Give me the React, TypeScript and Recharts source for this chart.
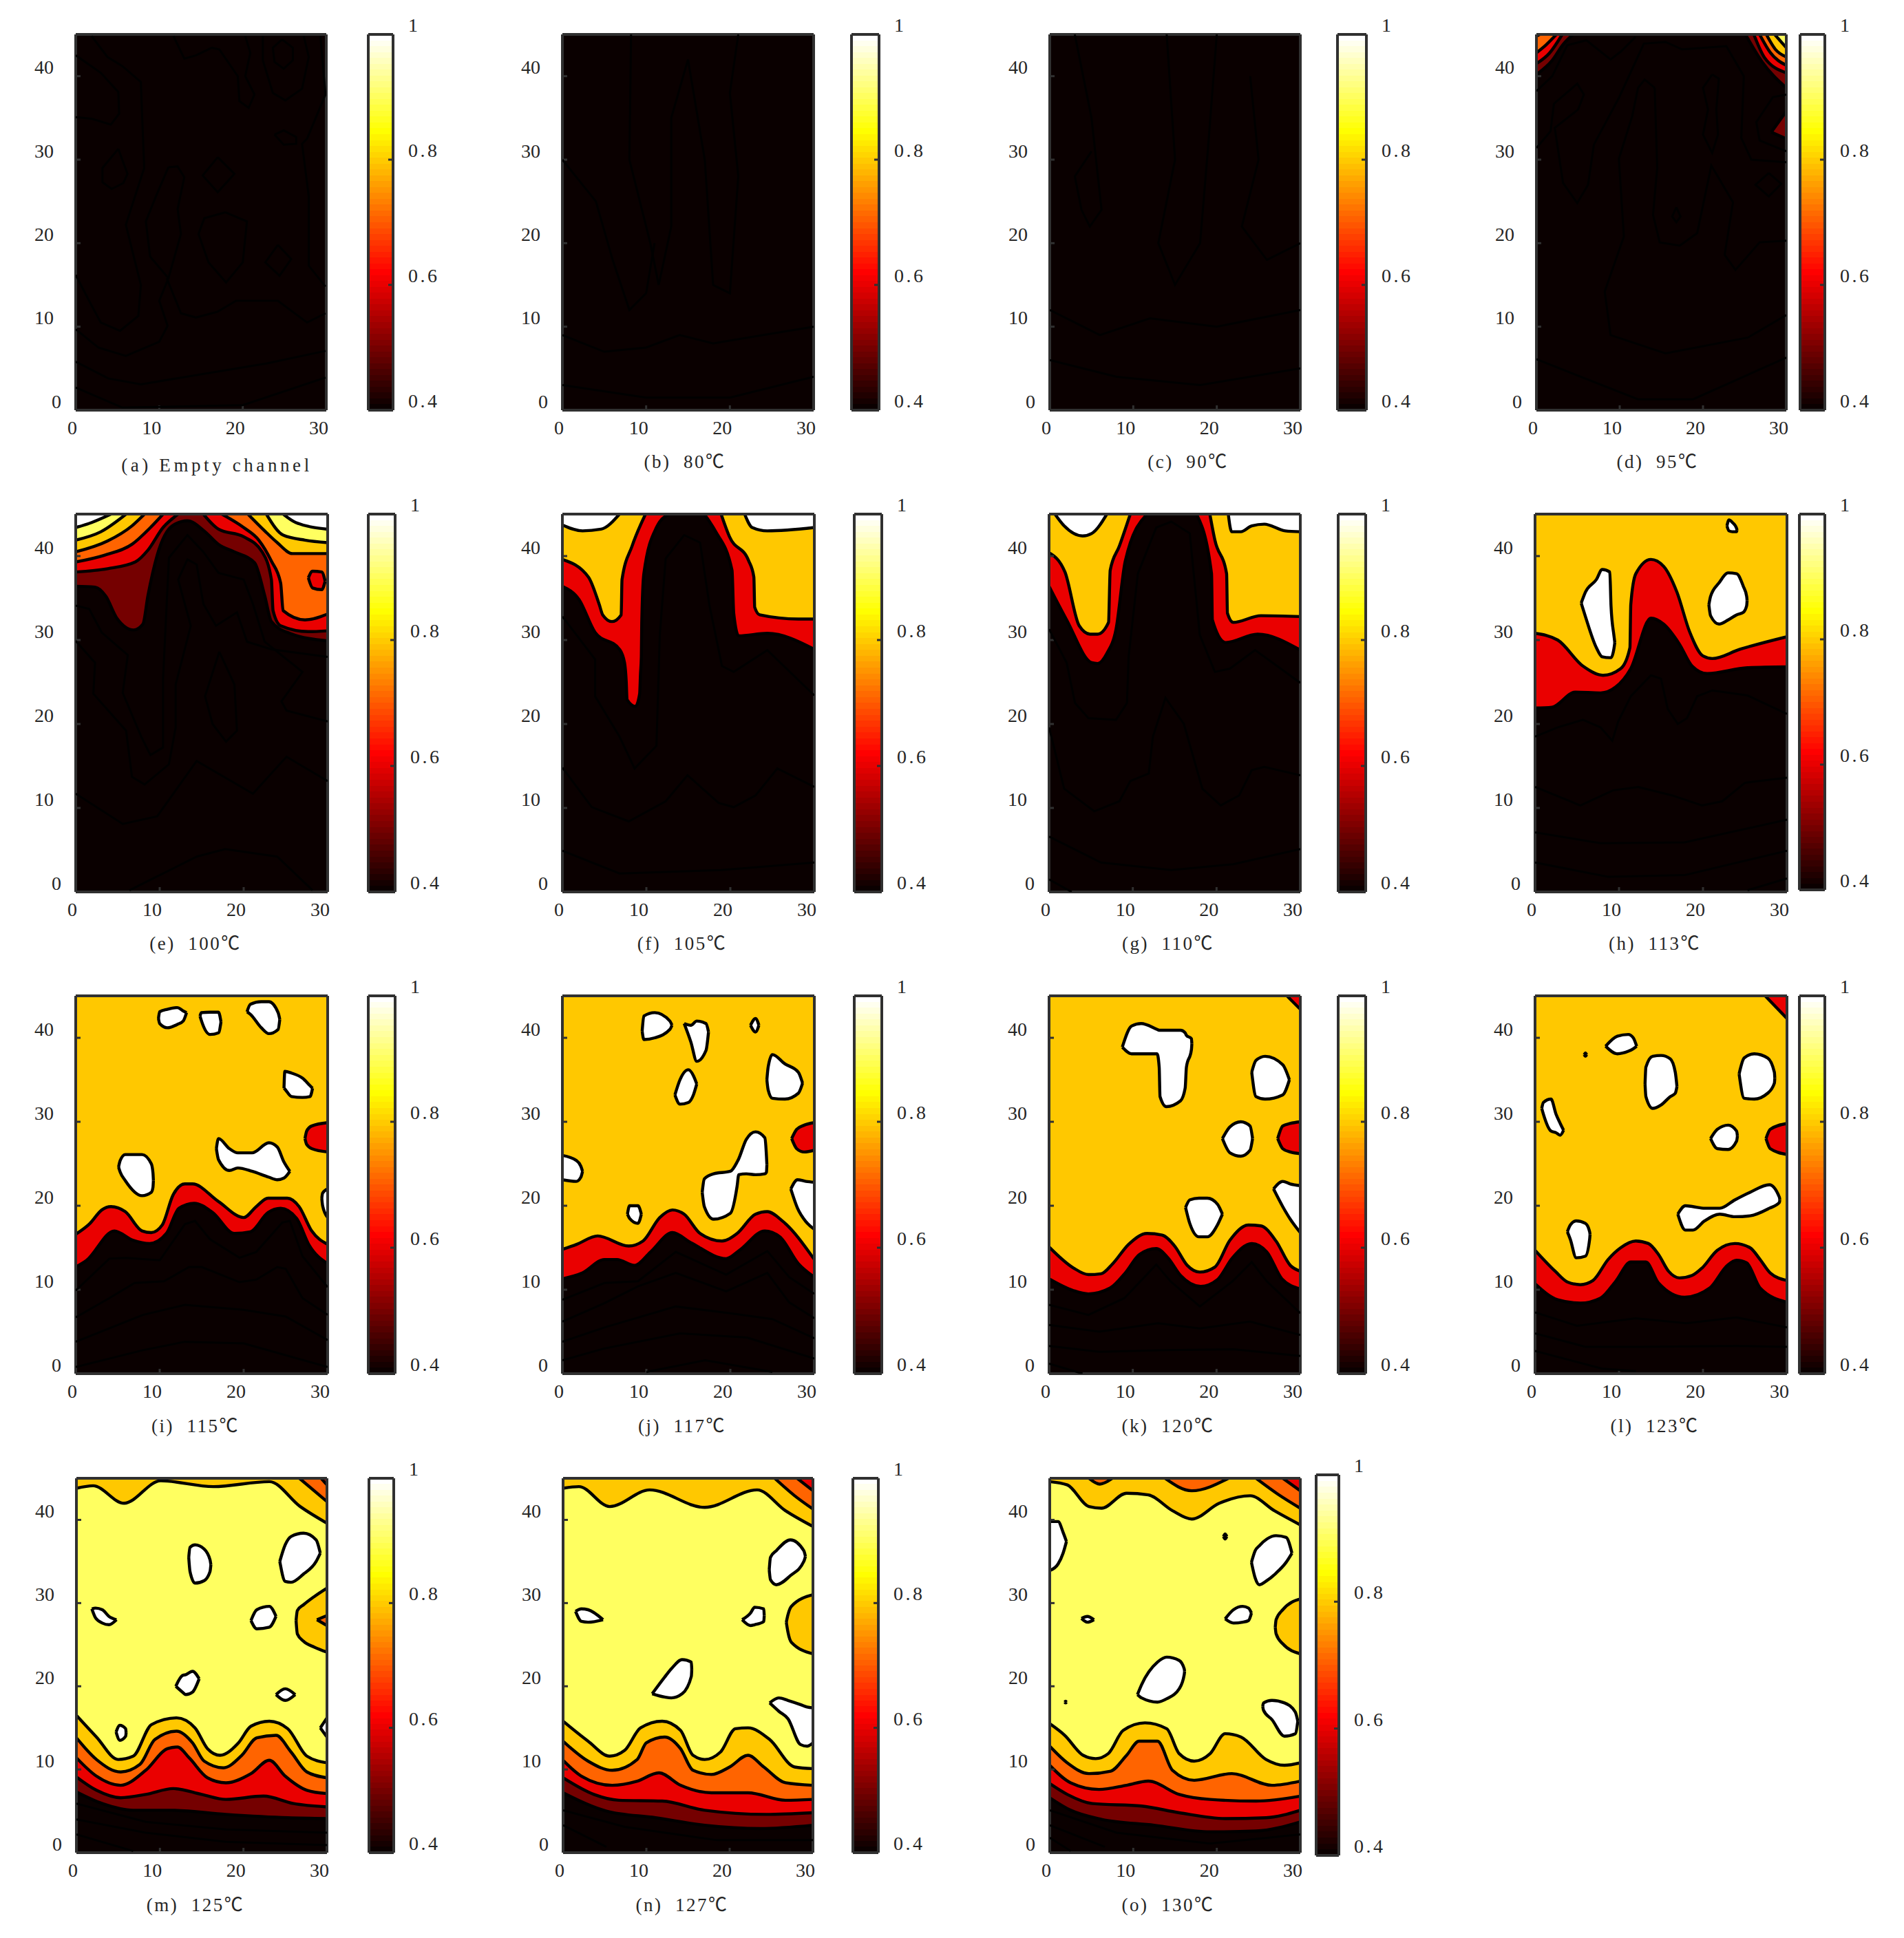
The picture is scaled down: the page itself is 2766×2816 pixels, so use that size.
import { Area, ComposedChart, Scatter, XAxis, YAxis } from "recharts";

type XY = [number, number];
type Rng = [number, number, number];

const BLACK = "#0a0000";
const DARK = "#750000";
const RED = "#ea0000";
const ORANGE = "#ff6400";
const AMBER = "#ffc800";
const YELLOW = "#ffff60";
const WHITE = "#ffffff";
const FRAME = "#303030";
const TEXT = "#262626";
const FONT = '"Liberation Serif", "Noto Sans CJK SC", serif';

const xTicks = [0, 10, 20, 30];
const yTicks = [0, 10, 20, 30, 40];
const barTicks = [0.4, 0.6, 0.8, 1];
const floorCurve: XY[] = [[0, 0], [30, 0]];

// (a) empty channel: only faint lines
const aLines: XY[][] = [
  [[1.9, 44.8], [3.8, 42.3], [5.6, 41.2], [7.8, 39.3], [8, 34], [8.2, 29], [6, 22.2], [7.8, 15], [7.5, 11.3], [5.3, 9.5], [3, 10.5], [1.6, 13.1], [0, 16.2]],
  [[0, 42.5], [3, 40.4], [5.1, 38.1], [5.2, 35.5], [4.2, 34.2], [1.9, 34.9], [0, 35.1]],
  [[5.1, 31.3], [6.2, 28.3], [5.7, 27.2], [4.3, 26.5], [3.2, 27.3], [3.2, 29], [5.1, 31.3]],
  [[11.7, 44.8], [13, 42.1], [14.4, 42.5], [16.3, 43.4], [17.2, 43.2], [19.4, 40], [19.6, 37], [20.7, 36.2], [21.4, 37.8], [20.3, 40], [20.9, 42.8], [20.3, 44.8]],
  [[24.7, 44.4], [26, 43.4], [26, 41.9], [24.9, 40.9], [23.8, 41.7], [23.6, 43.4], [24.7, 44.4]],
  [[22.4, 44.8], [22.4, 41.9], [23.6, 38], [25.1, 37.1], [27.1, 38.5], [27.9, 42.3], [27.3, 44.8]],
  [[29.3, 44.8], [29.9, 37.8], [27.7, 32.5], [27.1, 31.9], [27.9, 25.6], [27.9, 17.3], [29.9, 14.8]],
  [[23.8, 33], [24.9, 33.5], [26.4, 32.7], [26.4, 31.9], [24.9, 31.8], [23.8, 33]],
  [[11.1, 29.1], [12.2, 29.2], [13, 27.9], [12.2, 24.1], [12.6, 21.1], [11.1, 15.8], [10, 13.1], [11, 10.1], [10, 8.2], [6, 6.5], [2.7, 7.5], [0, 9.7]],
  [[11.1, 29.1], [9.6, 25.6], [8.4, 22.6], [8.9, 18.4], [11.1, 15.8]],
  [[17, 30.3], [19, 28.3], [17, 26.1], [15.2, 28.1], [17, 30.3]],
  [[17.9, 23.7], [20.5, 22.6], [20, 17.7], [18, 15.3], [15.9, 17.7], [14.7, 21.1], [15.4, 23], [17.9, 23.7]],
  [[24.2, 19.8], [25.8, 18.1], [24.4, 16.1], [22.7, 17.7], [24.2, 19.8]],
  [[10.9, 15.8], [12.6, 11.6], [14.4, 11.1], [17, 11.8], [19.2, 13.1], [24.2, 13.1], [27.7, 10.5], [29.9, 11.6]],
  [[0, 5.8], [3.9, 3.8], [7.8, 3.1], [22.9, 5.6], [29.9, 7.1]],
  [[0, 2.7], [5.6, 0.3], [20, 0.6], [29.9, 3.9]],
];

// (b), (c): faint lines, rough readings
const bLines: XY[][] = [
  [[0, 9], [5, 7], [10, 7.5], [14, 9], [18, 8], [24, 9], [30, 10]],
  [[8.2, 45], [8, 30], [10.5, 20], [11.5, 15], [13, 22], [13, 35], [15, 42], [17, 30], [18, 15], [20, 14], [21, 28], [20, 38], [21, 45]],
  [[0, 3], [10, 1.5], [20, 1.5], [30, 4]],
  [[0, 30], [4, 25], [6, 18], [8, 12], [10, 14], [11, 20]],
];
const cLines: XY[][] = [
  [[0, 6], [8, 4], [18, 3], [30, 5]],
  [[3, 45], [5, 35], [6.2, 24], [4.8, 22], [3.8, 24], [3, 28], [5, 31]],
  [[0, 12], [6, 9], [12, 11], [20, 10], [30, 12]],
  [[14, 45], [15, 30], [13, 20], [15, 15], [18, 20], [19, 32], [20, 45]],
  [[24, 40], [25, 30], [23, 22], [26, 18], [30, 20]],
];

// (d) 95C
const dTlDark: XY[] = [[0, 40.2], [1.9, 41.9], [3.2, 43.8], [4.4, 45]];
const dTlRed: XY[] = [[0, 41.5], [1.6, 42.8], [3.1, 45]];
const dTlOrange: XY[] = [[0, 42.8], [1.1, 43.7], [2.4, 45]];
const dTlAmber: XY[] = [[0, 44.8], [0.4, 45]];
const dTrDark: XY[] = [[25.1, 45], [27.1, 41.7], [30, 38.6]];
const dTrRed: XY[] = [[26.1, 45], [27.4, 42.2], [30, 40.4]];
const dTrOrange: XY[] = [[26.8, 45], [28.1, 42.8], [30, 41.3]];
const dTrAmber: XY[] = [[27.6, 45], [28.7, 43.2], [30, 42.3]];
const dTrYellow: XY[] = [[28.6, 45], [30, 43.4]];
const dWedge: Rng[] = [[28.2, 33.3, 33.3], [30, 32.5, 35.8]];
const dLines: XY[][] = [
  [[0, 38.2], [1.9, 40], [3.7, 43.7], [6, 44.3], [8.9, 42], [10.2, 43], [11.9, 44.7]],
  [[0, 31.4], [1.7, 33.4], [2.1, 36.7], [4.9, 39.1], [5.7, 37.8], [5, 36], [2.2, 33.8], [3.2, 27.2], [4.9, 24.8], [6.2, 27], [6.9, 31.8], [9.9, 37.4], [12.9, 43.9], [15.5, 44.1], [17.5, 43.2], [22.8, 43.6], [24.9, 40], [24.6, 32.6], [25.8, 30], [30, 29.7]],
  [[14.2, 38.6], [13, 39.6], [12.2, 38.6], [11.5, 35.2], [9.9, 30.1], [10.5, 20.8], [8.2, 14.2], [8.9, 9], [15.5, 6.8], [25.4, 8.7], [30, 11.4]],
  [[14.2, 38.6], [14.5, 29], [14, 23.4], [14.8, 20.1], [17.2, 19.7], [19.3, 21.2], [21, 29.3], [23.6, 24.9], [22.6, 18.6], [23.9, 16.8], [26.8, 20.1], [30, 20.3]],
  [[21.1, 40.2], [21.9, 39.7], [21.6, 36], [21.8, 33], [21.1, 30.8], [20, 33], [20.6, 36], [20, 38.6], [21.1, 40.2]],
  [[30, 37.8], [28.4, 37.5], [26.4, 34.5], [26.8, 32.3], [30, 31]],
  [[27.9, 28.4], [29.4, 27.1], [27.9, 25.6], [26.3, 27], [27.9, 28.4]],
  [[16.8, 24.3], [17.3, 23.2], [16.8, 22.5], [16.3, 23.2], [16.8, 24.3]],
  [[0, 6.1], [12.2, 1.3], [18.8, 1.3], [30, 6.3]],
];

// (e) 100C
const eDark: XY[] = [[0, 36.4], [2.3, 36.3], [3.6, 35.2], [4.9, 32.6], [6.9, 31.2], [8, 31.9], [8.6, 35.3], [9.7, 40.1], [11.5, 43.6], [13.3, 44.2], [15.4, 42.9], [17, 41.4], [18.9, 40.5], [21.3, 39.2], [22.5, 35.3], [23.3, 32.2], [25.5, 30.8], [30, 29.9]];
const eRedL: XY[] = [[0, 38.1], [3.8, 38.5], [7.1, 39.3], [8.6, 40.7], [10.4, 43.4], [12.2, 45]];
const eRedR: XY[] = [[15.2, 45], [17, 43.2], [20, 42.3], [22.2, 40.5], [23.3, 37.2], [23.5, 33.5], [24.4, 31.7], [27.7, 31], [30, 31.1]];
const eOrangeL: XY[] = [[0, 39.3], [3.4, 40.1], [6.7, 41.4], [8.9, 43.4], [10.4, 45]];
const eOrangeR: XY[] = [[17.4, 45], [20, 43.4], [21.8, 41.9], [23.3, 39.4], [24.4, 36.8], [24.7, 33.5], [27.3, 32.4], [30, 33.1]];
const eAmberL: XY[] = [[0, 40.5], [3.8, 41.8], [6.7, 43.6], [8.2, 45]];
const eAmberR: XY[] = [[20.5, 45], [22.5, 43], [24, 41.6], [25.8, 40.3], [30, 40.3]];
const eYellowL: XY[] = [[0, 41.9], [3, 42.9], [6, 45]];
const eYellowR: XY[] = [[22.7, 45], [24.7, 42.5], [27.3, 41.9], [30, 41.6]];
const eWhiteL: XY[] = [[0, 43.4], [1.9, 44], [4.2, 45]];
const eWhiteR: XY[] = [[24.7, 45], [26.2, 44], [30, 43.2]];
const eSpot: Rng[] = [[27.7, 37.4, 37.4], [28.2, 36.2, 38.2], [29.3, 36, 38.1], [29.7, 37, 37]];
const eLines: XY[][] = [
  [[0, 34.1], [1.6, 33.7], [3.1, 30.9], [6.2, 28.2], [5.6, 23.7], [7.8, 18.5], [8.9, 16.3], [10.4, 17.2], [10.4, 25.4], [11.1, 39.8], [13.3, 42.5], [15.2, 40.5], [17, 38], [20, 37.2], [21.1, 34.3], [22.5, 29.8], [27, 26.2], [24.5, 22.7], [25.1, 21.6], [30, 20.3]],
  [[0, 29.9], [2.3, 27.3], [2.1, 23.6], [6, 19.2], [6.7, 13.7], [8.2, 12.8], [11.1, 15.2], [11.9, 19.6], [11.9, 24.7], [13.7, 31.7], [12.2, 37.2], [13.3, 39.6], [14.4, 39], [15.2, 34.3], [16.7, 31.7], [19.2, 33.3], [20.4, 29.8], [23.3, 28.9], [30, 28]],
  [[17.1, 28.6], [18.9, 24.7], [19.2, 19.2], [17.9, 17.9], [16.3, 20], [15.4, 23.3], [17.1, 28.6]],
  [[0, 11.7], [5.6, 8.1], [9.7, 9], [14.4, 15.6], [21.1, 11.7], [25.1, 16.1], [30, 13.2]],
  [[6.4, 0.2], [14.4, 4.2], [17.8, 5.1], [24, 4.2], [28.2, 0.2]],
];

// (f) 105C
const fRedL: XY[] = [[0, 36.4], [2, 34.8], [3.9, 30.9], [6.8, 28.9], [7.4, 27.3], [7.6, 25.1], [7.7, 22.9], [8.7, 22.1], [9.2, 23.6], [9.3, 26], [9.4, 28], [9.45, 32], [9.7, 37.9], [11.2, 43.4], [12.7, 45]];
const fRedR: XY[] = [[16.9, 45], [18.2, 43], [20.2, 38.3], [20.4, 33.2], [21, 30.5], [24.4, 30.8], [30, 28.9]];
const fAmberL: XY[] = [[0, 39.6], [3.1, 37.5], [4.4, 34.2], [4.8, 33], [5.9, 32.2], [7, 33], [7.1, 37.2], [8.3, 41.2], [9.9, 45]];
const fAmberR: XY[] = [[18.9, 45], [19.9, 42.3], [22.2, 39.4], [22.8, 37.5], [22.9, 33.9], [23.5, 33], [28.1, 32.5], [30, 32.5]];
const fWhiteL: XY[] = [[0, 43.7], [2.4, 43], [4.6, 43.2], [6.8, 45]];
const fWhiteR: XY[] = [[21.7, 45], [22.6, 43.4], [24.4, 43], [30, 43.4]];
const fLines: XY[][] = [
  [[0, 32.8], [3.9, 27.7], [3.9, 23.3], [6.8, 18.5], [8.6, 14.7], [11.2, 17.4], [11.6, 30.6], [12.3, 39.7], [14.5, 42.5], [16.4, 41.6], [17.5, 34.2], [19, 26.9], [20.4, 26.2], [24.4, 28.8], [30, 23.4]],
  [[0, 14.8], [3.5, 10.1], [7.9, 8.4], [12.3, 10.8], [14.9, 13.9], [18.6, 10.6], [20.4, 10.1], [23, 11.5], [25.6, 14.7], [30, 12.5]],
  [[0, 4.9], [6.8, 2.2], [18.9, 2.6], [30, 3.5]],
];

// (g) 110C
const gRedL: XY[] = [[0, 36.4], [2.1, 32.4], [5.1, 27.3], [5.8, 27.2], [6.9, 28.4], [8, 31.3], [9.1, 39.4], [11.7, 45]];
const gRedR: XY[] = [[17.6, 45], [19.4, 37.9], [19.5, 32.4], [21.1, 29.7], [24.9, 30.7], [30, 28.8]];
const gAmberL: XY[] = [[0, 40.4], [1.9, 38.1], [3.6, 31.7], [4.9, 30.7], [5.8, 30.7], [7.1, 32.1], [7.3, 38.3], [8.4, 41.2], [9.7, 45]];
const gAmberR: XY[] = [[19.2, 45], [19.8, 41.9], [21.2, 37.9], [21.3, 33.2], [22, 32.1], [25.3, 32.9], [30, 32.8]];
const gWhiteL: XY[] = [[0.7, 45], [1.8, 43.6], [4, 42.4], [5.1, 42.7], [6.9, 45]];
const gWhiteR: XY[] = [[21.4, 45], [21.8, 42.9], [22.9, 42.9], [24.2, 43.6], [25.7, 43.8], [28.2, 43], [30, 42.9]];
const gLines: XY[][] = [
  [[0, 31.3], [2.1, 27.3], [3.1, 22.5], [4.7, 20.7], [8, 20.5], [9.3, 22.5], [9.5, 28], [10.6, 37.9], [12.8, 43.4], [14.6, 44.1], [16.8, 42.7], [18, 30.6], [19.8, 26.2], [21.6, 26.6], [24.6, 28.8], [30, 24.9]],
  [[0, 19.6], [1.8, 12.3], [5.4, 9.6], [8.4, 10.8], [9.7, 13.2], [11.9, 14.1], [12.4, 18.5], [13.9, 23.1], [16.1, 20], [18.3, 12.3], [20.5, 10.3], [22.7, 11.5], [24.2, 14.5], [25.7, 14.9], [30, 13.9]],
  [[0, 6.6], [6.2, 3.5], [14.6, 2.6], [22, 3.3], [30, 5.1]],
  [[0, 1.5], [2.7, 0]],
];

// (h) 113C
const hRed: XY[] = [[0, 21.9], [2, 22], [4.8, 23.8], [7.8, 23.7], [9.6, 24.4], [11.4, 26.6], [13.8, 32.6], [15.3, 31.9], [17.2, 29.5], [18.7, 26.9], [20.5, 26], [25.3, 26.7], [30, 26.8]];
const hAmber: XY[] = [[0, 30.8], [2.7, 30], [5.7, 26.9], [8.1, 25.8], [10.2, 26.6], [11.3, 29.1], [11.4, 34.2], [12, 37.9], [13.8, 39.6], [15.3, 38.8], [16.9, 35.7], [18.4, 31], [20, 28.1], [21.1, 27.8], [24.4, 28.9], [30, 30.4]];
const hBlobA: Rng[] = [[5.5, 34.4, 34.4], [6, 32.8, 35.7], [7.3, 29.1, 37.2], [8, 28, 38.4], [8.9, 27.9, 38.1], [9.05, 27.9, 34], [9.4, 29, 30.5], [9.5, 29.7, 29.7]];
const hBlobB: Rng[] = [[20.7, 34.2, 34.2], [20.9, 32.9, 35.2], [21.9, 31.9, 36.8], [23, 32.4, 38], [24, 33, 37.9], [24.8, 33.3, 36.4], [25.2, 34.1, 35.2], [25.25, 34.7, 34.7]];
const hBlobC: Rng[] = [[22.85, 43.6, 43.6], [23.1, 43, 44.3], [23.5, 42.9, 44], [24, 42.9, 43.3], [24.05, 43.1, 43.1]];
const hLines: XY[][] = [
  [[0, 18.5], [2.7, 19.6], [5.7, 20.5], [7.8, 19.6], [9.2, 18], [9.9, 20.3], [11.4, 23.3], [13.8, 25.8], [15, 25.4], [15.8, 21.8], [17, 20], [18.1, 20.7], [19.3, 23.3], [21.1, 24], [25.3, 23.4], [30, 21.2]],
  [[0, 12.5], [5.4, 10.3], [9.3, 12.1], [12.3, 12.5], [16.3, 11.5], [19.9, 10.3], [22.3, 10.8], [25, 13], [30, 13.6]],
  [[0, 7.1], [7.8, 5.8], [17.8, 5.9], [30, 8.6]],
  [[0, 3.5], [8.7, 1.8], [17.8, 2], [30, 4.9]],
  [[25.3, 0.2], [30, 1.6]],
];

// (i) 115C
const iRed: XY[] = [[0, 12.7], [1.3, 13.5], [4.6, 17], [6.8, 15.9], [8.8, 15.5], [10.8, 16.7], [12.3, 19.7], [14.1, 20.3], [16.3, 19.2], [18.9, 16.7], [20.8, 16.9], [22.9, 19.2], [24.4, 19.7], [26.3, 18.5], [27.8, 15.3], [30, 13.1]];
const iAmber: XY[] = [[0, 16.6], [1.7, 17.9], [3.1, 19.5], [4.2, 19.9], [5.9, 19.3], [7.9, 17], [9, 16.8], [10.3, 17.7], [11.6, 21.3], [13, 22.6], [13.9, 22.6], [17, 20.5], [20, 18.6], [21.5, 19.9], [22.9, 20.9], [25.2, 20.9], [26.6, 19.9], [28.1, 17], [30, 15.4]];
const iBlobA: Rng[] = [[5.1, 24.6, 24.6], [5.3, 24, 25.4], [5.9, 23, 26.1], [7.9, 21.2, 26.1], [9, 21.6, 25], [9.2, 22.2, 23.9], [9.25, 23, 23]];
const iBlobB: Rng[] = [[9.85, 42.3, 42.3], [10, 41.7, 43.1], [10.9, 41.2, 43.4], [12.1, 41.6, 43.6], [12.8, 42, 43.2], [13.2, 43, 43]];
const iBlobC: Rng[] = [[14.8, 42.6, 42.6], [14.95, 42.1, 43], [16, 40.4, 43.05], [17, 40.6, 43.05], [17.3, 41.9, 41.9]];
const iBlobD: Rng[] = [[20.4, 43.1, 43.1], [20.8, 42.8, 44], [22.1, 41.2, 44.3], [23, 40.5, 44.3], [24.1, 41, 43], [24.3, 42.2, 42.2]];
const iBlobE: Rng[] = [[24.8, 34, 34], [24.9, 33.9, 36], [25.7, 33, 35.8], [27, 32.9, 35.2], [27.9, 33, 34.3], [28.2, 34, 34]];
const iBlobF: Rng[] = [[16.75, 26.8, 26.8], [17, 25.5, 28], [18.3, 24.2, 26.8], [19.3, 24.5, 26.3], [21, 24.1, 26.3], [23, 23.4, 27.5], [24, 23.1, 27], [24.8, 23.3, 25.2], [25.5, 24.1, 24.1]];
const iBlobG: Rng[] = [[29.3, 20.9, 20.9], [29.4, 20, 21.5], [30, 18.6, 22]];
const iSpot: Rng[] = [[27.3, 28, 28], [27.5, 27.3, 28.9], [28.1, 26.8, 29.5], [30, 26.4, 29.9]];
const iLines: XY[][] = [
  [[0, 9.9], [4, 13.7], [6, 13.8], [10, 13.5], [13, 17.8], [14.2, 18.2], [16, 16], [19.5, 13.8], [21.5, 14.5], [24.6, 18], [25.5, 18.2], [27, 14], [30, 10.3]],
  [[0, 6.7], [4, 9], [7, 10.8], [10.5, 11], [13.5, 12.7], [15, 12.7], [19.5, 10.9], [21.5, 11.2], [24, 12.7], [25, 12.5], [27, 9], [30, 7]],
  [[0, 3.8], [8, 7], [13, 8.2], [20, 7.6], [25, 6.8], [30, 4]],
  [[0, 0.8], [8, 2.8], [13, 3.8], [20, 3.6], [30, 0.8]],
];

// (j) 117C
const jRed: XY[] = [[0, 11.3], [2.4, 12], [5, 13.6], [6.5, 13.6], [8.6, 12.9], [10.5, 14.5], [13.1, 16.8], [15.3, 15.6], [19.5, 13.7], [21.1, 14.7], [24.1, 17], [25.9, 16.3], [28.1, 13.1], [30, 11.5]];
const jAmber: XY[] = [[0, 14.8], [1.7, 15.4], [4.2, 16.4], [7.9, 15.2], [9.6, 15.8], [11.6, 18.6], [13.1, 19.5], [14.5, 19], [16.4, 16.7], [19, 15.8], [20.8, 16.7], [23, 19], [24.4, 19.3], [26.3, 18.1], [30, 13.6]];
const jBlobA: Rng[] = [[9.5, 40.8, 40.8], [9.7, 39.8, 42.6], [11, 40, 43], [12.8, 41, 42], [13.05, 41.5, 41.5]];
const jBlobB: Rng[] = [[14.5, 41.7, 41.7], [15.3, 39.5, 41.5], [16, 37.2, 42], [17.1, 38.5, 41.7], [17.4, 40.7, 40.7]];
const jBlobC: Rng[] = [[22.4, 41.5, 41.5], [23, 40.7, 42.3], [23.4, 41.5, 41.5]];
const jBlobD: Rng[] = [[13.4, 33.2, 33.2], [14, 32.1, 35], [15, 32.3, 36.2], [15.6, 33.2, 35.5], [16, 34.5, 34.5]];
const jBlobE: Rng[] = [[24.35, 35, 35], [24.5, 33.8, 36.5], [25, 32.8, 38], [26.5, 32.7, 36.9], [28.1, 33.4, 35.9], [28.6, 34.6, 34.6]];
const jBlobF: Rng[] = [[16.65, 21.6, 21.6], [16.9, 19.9, 23.2], [18, 18.4, 23.8], [20, 19.1, 24.1], [20.8, 22.3, 25.2], [21, 23.7, 25.6], [21.9, 23.8, 27.9], [23, 23.7, 28.8], [24.1, 23.8, 28.1], [24.3, 24, 25.9], [24.35, 24.9, 24.9]];
const jBlobG: Rng[] = [[0, 23.1, 26], [1.65, 22.9, 25.4], [2.2, 23.4, 24.7], [2.4, 24.1, 24.1]];
const jBlobH: Rng[] = [[7.75, 19, 19], [8, 18.5, 20], [9, 17.9, 20], [9.4, 19, 19]];
const jBlobI: Rng[] = [[27.2, 22, 22], [28, 19.7, 23.1], [29, 18.1, 22.9], [30, 17.2, 22.8]];
const jSpot: Rng[] = [[27.3, 28, 28], [27.9, 26.8, 29.1], [28.8, 26.4, 29.6], [30, 26.6, 29.9]];
const jLines: XY[][] = [
  [[0, 8.8], [5, 10.8], [9, 11], [13.5, 14.5], [19.5, 11.8], [24.4, 14.6], [27, 11.5], [30, 9.5]],
  [[0, 6.2], [5, 8.4], [9, 10.4], [13.5, 12], [19.5, 9.8], [24.4, 12], [27, 8.5], [30, 6.6]],
  [[0, 3.8], [5, 5.5], [13.5, 8], [20, 7.2], [25, 6.5], [30, 4.2]],
  [[0, 1.6], [5, 3], [14, 4.8], [22, 4.3], [30, 1.8]],
  [[10, 0.2], [17, 1.6], [25, 0.2]],
];

// (k) 120C
const kRed: XY[] = [[0, 11.3], [2.9, 9.9], [4.7, 9.5], [7.3, 10.2], [9.1, 12], [10.8, 14.2], [12.8, 14.9], [14.2, 13.8], [15.7, 11.7], [18.1, 10.4], [20.1, 11.2], [21.9, 13.8], [24.2, 15.5], [26, 14.5], [27.8, 11.3], [30, 10.1]];
const kAmber: XY[] = [[0, 15.1], [2.9, 12.6], [4.7, 11.8], [6.2, 11.9], [7.6, 13.1], [9.5, 15.4], [11.7, 16.7], [13.5, 16.5], [15, 15.2], [16.5, 12.9], [18, 12.1], [19.8, 12.7], [21.6, 15.9], [23.8, 17.7], [25.3, 17.6], [27.1, 15.8], [28.8, 12.9], [30, 12.2]];
const kCorner: XY[] = [[28.4, 45], [30, 43.4]];
const kBlobA: Rng[] = [[8.75, 38.9, 38.9], [9.85, 38.1, 41.4], [11, 38.1, 41.7], [12.9, 38.1, 41], [13.15, 36.5, 40.9], [13.25, 33, 40.9], [14, 31.8, 40.9], [15.7, 32.5, 40.9], [16.25, 34, 40.6], [16.4, 36.5, 40.3], [17, 38.6, 39.9], [17.05, 39.3, 39.3]];
const kBlobB: Rng[] = [[24.2, 35.9, 35.9], [24.7, 33, 37.3], [25.8, 32.7, 37.8], [27.9, 33.2, 36.8], [28.7, 35, 35]];
const kBlobC: Rng[] = [[20.7, 28, 28], [21.6, 26.3, 29.4], [22.9, 25.9, 30], [24, 26.6, 29.5], [24.3, 28, 28]];
const kBlobD: Rng[] = [[16.3, 19.8, 19.8], [16.8, 17.9, 20.7], [17.9, 16.3, 20.9], [18.9, 16.3, 20.9], [20.1, 17.7, 20.2], [20.7, 19, 19]];
const kBlobE: Rng[] = [[26.8, 22, 22], [27.9, 19.9, 22.9], [28.8, 18.4, 22.6], [30, 16.8, 22.4]];
const kSpot: Rng[] = [[27.3, 28, 28], [27.9, 26.8, 29.5], [28.8, 26.4, 29.8], [30, 26.2, 30]];
const kLines: XY[][] = [
  [[0, 8.2], [4.7, 7], [9, 9], [12.8, 13], [14.5, 11], [18, 8], [21.9, 11], [24.2, 13.3], [26, 11], [30, 7.2]],
  [[0, 5.8], [6, 5], [13, 6], [18, 5.4], [24, 6.2], [30, 4.6]],
  [[0, 3.3], [6, 2.6], [14, 2.8], [22, 2.9], [30, 2.1]],
  [[0, 1.2], [4, 0]],
];

// (l) 123C
const lRed: XY[] = [[0, 10.7], [2.7, 8.8], [5.4, 8.4], [7.8, 9], [9.6, 11], [11.4, 13.3], [13.2, 13.3], [14.7, 10.8], [17.8, 9.1], [20.8, 10.2], [22.9, 12.9], [24, 13.5], [25.2, 13.2], [26.8, 10.2], [30, 8.5]];
const lAmber: XY[] = [[0, 14.7], [2.4, 12.2], [3.9, 10.9], [5.4, 10.6], [6.9, 11.1], [8.7, 13.6], [10.2, 15], [12, 15.8], [13.5, 15.5], [14.7, 14.2], [15.9, 12.2], [17.2, 11.4], [18.7, 11.7], [19.9, 12.6], [21.7, 14.7], [23.8, 15.5], [25.6, 15], [26.8, 13.6], [28, 12], [30, 11.1]];
const lCorner: XY[] = [[27.4, 45], [30, 42.3]];
const lBlobA: Rng[] = [[8.4, 39, 39], [9.8, 38.1, 40.2], [11.1, 38.4, 40.4], [11.7, 38.7, 40], [12.1, 39, 39]];
const lBlobB: Rng[] = [[0.8, 31.6, 31.6], [1, 30.9, 32.3], [1.9, 28.9, 32.7], [2.5, 28.7, 30.9], [3, 28.4, 29.8], [3.4, 29, 29]];
const lBlobC: Rng[] = [[13.1, 34.5, 34.5], [13.2, 33, 36.5], [14, 31.6, 37.8], [15, 32, 37.9], [16.1, 33, 37.5], [16.7, 33.4, 35.9], [16.9, 34.2, 34.2]];
const lBlobD: Rng[] = [[24.3, 35.7, 35.7], [24.9, 32.8, 37.6], [26.1, 32.7, 38.1], [27.7, 33.4, 37.6], [28.5, 34.6, 35.9], [28.55, 35.2, 35.2]];
const lBlobE: Rng[] = [[20.9, 28, 28], [21.7, 26.8, 29.1], [23, 26.7, 29.6], [24, 27.7, 28.9], [24.1, 28.3, 28.3]];
const lBlobF: Rng[] = [[17, 19, 19], [17.9, 17.1, 20], [18.8, 17.1, 19.9], [20.2, 18.2, 19.7], [22, 19, 19.7], [23.8, 18.7, 20.7], [25.6, 18.8, 21.6], [27.9, 19.7, 22.5], [29.1, 20.4, 21], [29.15, 20.7, 20.7]];
const lBlobG: Rng[] = [[3.85, 16.9, 16.9], [4.2, 16, 17.7], [4.9, 13.8, 18.2], [6, 14, 17.9], [6.5, 16, 16.9], [6.55, 16.6, 16.6]];
const lDot: Rng[] = [[5.85, 38, 38], [6, 37.8, 38.2], [6.15, 38, 38]];
const lSpot: Rng[] = [[27.5, 28, 28], [28, 26.8, 29.1], [30, 26.1, 29.8]];
const lLines: XY[][] = [
  [[0, 7.3], [5, 5.7], [12, 6.6], [18, 6], [24, 6.7], [30, 5.5]],
  [[0, 4.8], [6, 3.2], [12, 3.2], [24, 3.3], [30, 3.2]],
  [[0, 2.7], [8, 0.6], [12, 0.3]],
];

// (m) 125C
const mDark: XY[] = [[0, 7.3], [3.1, 5.9], [6.8, 5.1], [11.3, 5.1], [17.9, 4.6], [25.3, 4.2], [30, 4.1]];
const mRed: XY[] = [[0, 9.1], [2.4, 7.5], [5.3, 6.6], [8.3, 7], [11.6, 7.7], [15, 7], [17.9, 6.4], [22.4, 6.8], [26, 5.9], [30, 5.5]];
const mOrange: XY[] = [[0, 11.4], [2.4, 9.2], [5.3, 8.1], [8.3, 9.9], [10.9, 12.5], [12.1, 12.7], [13.5, 11.4], [15.7, 9], [17.9, 8.4], [20.9, 9.5], [23.1, 11.1], [25, 9.2], [27.6, 7.5], [30, 7.1]];
const mAmber: XY[] = [[0, 13.8], [2.4, 11.2], [5.3, 9.7], [7.6, 10.6], [9.4, 13.6], [12, 14.6], [13.9, 13.2], [15.3, 11], [17.6, 10.2], [19.8, 11.7], [21.6, 13.8], [23.9, 14.1], [25.7, 12.1], [27.6, 9.7], [30, 9]];
const mYellow: XY[] = [[0, 16.5], [2.4, 13.9], [5, 11.2], [6.8, 11.6], [9, 15.4], [12, 16.2], [14.2, 15], [15.7, 12.5], [17.2, 11.7], [19.4, 13.2], [20.9, 15.2], [23.1, 15.8], [25.3, 14.9], [27.6, 11.6], [30, 10.8]];
const mTopAmber: XY[] = [[0, 43.8], [2, 44.1], [5.7, 42], [10.1, 44.7], [16.4, 44], [23.1, 44.6], [26.8, 41.6], [30, 39.6]];
const mTopOrange: XY[] = [[26.7, 45], [30, 42.2]];
const mTopRed: XY[] = [[29.3, 45], [30, 44.2]];
const mSide: Rng[] = [[26.3, 27.9, 27.9], [26.45, 26.3, 29.1], [27.2, 25.4, 29.8], [28.5, 24.7, 30.8], [30, 24.1, 31.8]];
const mSpot: Rng[] = [[28.8, 28, 28], [30, 27.3, 28.5]];
const mBlobA: Rng[] = [[24.35, 35, 35], [25, 32.6, 37], [25.7, 32.5, 38], [27.2, 33.5, 38.4], [28.7, 35, 37.6], [29.2, 36, 36]];
const mBlobB: Rng[] = [[13.45, 35.5, 35.5], [13.6, 33.8, 36.7], [14.2, 32.4, 37], [15.3, 32.7, 36.5], [16, 33.8, 35.2], [16.1, 34.6, 34.6]];
const mBlobC: Rng[] = [[1.85, 29.3, 29.3], [2.3, 28.2, 29.4], [3.1, 27.6, 29.2], [3.9, 27.4, 28.4], [4.8, 28, 28]];
const mBlobD: Rng[] = [[20.9, 27.9, 27.9], [21.6, 26.9, 29.2], [23.1, 27.1, 29.6], [23.9, 28.4, 28.4]];
const mBlobE: Rng[] = [[11.9, 20, 20], [12.7, 19.3, 21.3], [13.1, 19, 21.4], [13.9, 19.3, 21.8], [14.7, 20.9, 20.9]];
const mBlobF: Rng[] = [[23.9, 19, 19], [25, 18.3, 19.7], [26.2, 19, 19]];
const mBlobG: Rng[] = [[4.75, 14.5, 14.5], [5.2, 13.5, 15.3], [5.9, 14, 14.9], [5.95, 14.4, 14.4]];
const mBlobH: Rng[] = [[29.2, 15, 15], [30, 13.9, 16.2]];
const mLines: XY[][] = [
  [[0, 5.9], [8.3, 3.7], [17.9, 2.8], [30, 2.4]],
  [[0, 4], [8.3, 2.4], [17.9, 1.3], [30, 0.9]],
  [[0, 2.2], [6.8, 0.2]],
];

// (n) 127C
const nDark: XY[] = [[0, 7.2], [5.2, 5], [11.1, 4.2], [17, 3.3], [23.7, 2.9], [30, 3.3]];
const nRed: XY[] = [[0, 9], [3.7, 7], [6.7, 6.3], [11.9, 6.2], [17, 5.1], [24.4, 4.6], [30, 4.8]];
const nOrange: XY[] = [[0, 11.1], [2.2, 9.2], [5.9, 8.1], [8.9, 8.6], [11.5, 9.6], [14.1, 8.1], [17.8, 7.2], [22.2, 7.2], [26.7, 6.3], [30, 6.4]];
const nAmber: XY[] = [[0, 13.4], [3, 11], [5.9, 9.9], [8.9, 11.2], [10, 13.2], [12.2, 13.9], [14.1, 12.5], [15.6, 9.9], [17.8, 9.4], [20, 10.3], [22.2, 11.7], [24.1, 10.3], [26.7, 8.4], [30, 8.1]];
const nYellow: XY[] = [[0, 15.8], [3, 13.4], [5.6, 11.6], [7.4, 12.3], [9.3, 15], [11.9, 15.8], [14.1, 14.7], [15.6, 11.7], [17, 11.2], [18.9, 12.1], [20.7, 14.9], [22.2, 15], [24.8, 13.6], [27.8, 10.3], [30, 10.1]];
const nTopAmber: XY[] = [[0, 43.8], [1.9, 44], [5.6, 41.6], [10.4, 43.6], [17, 41.5], [23.3, 43.6], [26.7, 41.1], [30, 39.2]];
const nTopOrange: XY[] = [[25.4, 45], [27.8, 42.9], [30, 41.3]];
const nTopRed: XY[] = [[28.1, 45], [30, 43.5]];
const nSide: Rng[] = [[26.8, 27.7, 27.7], [27, 26.5, 28.6], [27.4, 25.3, 29.6], [30, 23.9, 31]];
const nBlobA: Rng[] = [[24.75, 34, 34], [24.9, 32.8, 35.5], [25.6, 32.2, 36.3], [27.3, 33.3, 37.6], [28.9, 35, 36.3], [29.1, 35.6, 35.6]];
const nBlobB: Rng[] = [[1.5, 29, 29], [2.2, 27.8, 29.3], [3, 27.7, 29.2], [4.8, 28, 28]];
const nBlobC: Rng[] = [[21.5, 28, 28], [22.5, 27.3, 28.8], [23, 27.4, 29.5], [24.1, 27.8, 29.3], [24.15, 28.5, 28.5]];
const nBlobD: Rng[] = [[10.7, 19.1, 19.1], [12.2, 18.7, 21.1], [13, 18.6, 22.1], [14.3, 19.1, 23.2], [15.4, 21.2, 22.9], [15.45, 22, 22]];
const nBlobE: Rng[] = [[24.8, 18, 18], [25.9, 17, 18.6], [27, 16.1, 18.3], [28.5, 13, 17.8], [29.3, 12.8, 17.5], [30, 13.2, 17.4]];
const nLines: XY[][] = [
  [[0, 5.1], [7.4, 3.1], [18.5, 1.5], [30, 1.5]],
  [[0, 3.3], [5.2, 0.7]],
];

// (o) 130C
const oDark: XY[] = [[0, 6.6], [2.5, 5.1], [6.2, 4], [12.5, 3.3], [19.2, 2.5], [24.7, 2.6], [30, 3.7]];
const oRed: XY[] = [[0, 8.3], [2.1, 7], [5.1, 5.9], [11, 5.6], [15.5, 4.8], [21, 4.1], [25.9, 4.2], [30, 5.1]];
const oOrange: XY[] = [[0, 10.5], [2.5, 8.4], [5.9, 7.6], [9.2, 8.1], [11.8, 8.6], [15.5, 7], [19.2, 6.4], [24.7, 6.2], [30, 6.8]];
const oAmber: XY[] = [[0, 12.8], [2.1, 10.8], [4.7, 9.5], [7.3, 9.8], [9.2, 11.7], [10.7, 13.4], [12.9, 13.4], [14.7, 9.9], [17.3, 8.7], [21.8, 9.5], [26.6, 8.1], [30, 8.6]];
const oYellow: XY[] = [[0, 15.5], [1.8, 14.1], [4, 11.7], [5.5, 11.3], [7, 11.9], [8.8, 14.7], [11.4, 15.6], [14, 14.9], [15.5, 11.9], [17.3, 11], [19.2, 11.9], [21, 14.3], [22.9, 13.9], [25.9, 11.2], [28.1, 10.5], [30, 10.8]];
const oTopAmber: XY[] = [[0, 44.6], [2.1, 44.2], [4.7, 41.6], [6.2, 41.4], [9.2, 43.2], [11.8, 43], [14.7, 41.1], [17, 40.1], [20.3, 42], [24, 42.9], [26.9, 41.1], [30, 39.4]];
const oTopOrangeA: XY[] = [[4.7, 45], [6, 44.3], [7.5, 45]];
const oTopOrangeB: XY[] = [[13.8, 45], [17, 43.5], [21.4, 45]];
const oTopOrangeC: XY[] = [[24.7, 45], [27.3, 43.1], [30, 41.4]];
const oTopRed: XY[] = [[27.9, 45], [30, 43.5]];
const oSide: Rng[] = [[27, 27.1, 27.1], [27.1, 26.3, 28], [27.9, 25.1, 29.2], [30, 23.9, 30.5]];
const oBlobA: Rng[] = [[0, 33.9, 39.8], [1, 34.7, 39.8], [1.6, 36, 38.5], [2, 37.4, 37.4]];
const oBlobB: Rng[] = [[24.15, 34.9, 34.9], [24.6, 33, 36.3], [25.1, 32.2, 36.9], [26, 32.7, 37.7], [27.1, 33.6, 38.1], [28.3, 34.9, 37.9], [29, 36, 36]];
const oBlobC: Rng[] = [[21, 28.1, 28.1], [22, 27.6, 29.2], [23.1, 27.7, 29.6], [23.8, 27.9, 29.4], [24.15, 28.8, 28.8]];
const oBlobD: Rng[] = [[3.8, 28.15, 28.15], [4.5, 27.7, 28.4], [5.3, 28, 28]];
const oDotA: Rng[] = [[20.8, 38, 38], [21, 37.7, 38.3], [21.2, 38, 38]];
const oDotB: Rng[] = [[1.8, 18.1, 18.1], [1.9, 18, 18.2], [2, 18.1, 18.1]];
const oBlobE: Rng[] = [[10.5, 19, 19], [11, 18.6, 20.2], [12.9, 18.1, 22.9], [14, 18.5, 23.5], [15.5, 19.7, 23.1], [16.1, 21.4, 22.1], [16.15, 21.8, 21.8]];
const oBlobF: Rng[] = [[25.5, 17.6, 17.6], [25.6, 17.1, 18], [26.6, 16, 18.3], [28.1, 14, 18], [29.4, 14.3, 16.9], [29.7, 15.8, 15.8]];
const oLines: XY[][] = [
  [[0, 5.1], [8, 2.4], [19.2, 1.1], [30, 2.2]],
  [[0, 3.3], [6.6, 0.7]],
  [[0, 1.8], [2.5, 0.2]],
];

type Layer = { pts: XY[]; fill: string };
type Blob = { pts: Rng[]; fill: string };
type Panel = {
  caption: string; capX: number; capY: number; spacing: number;
  left: number; right: number; top: number; bottom: number;
  barLeft: number; barRight: number; barTop: number; barBottom: number;
  lines: XY[][]; layers: Layer[]; blobs: Blob[];
};

const R1 = { top: 50, bottom: 596, barTop: 50, barBottom: 596, capY: 671, spacing: 2.5 };
const R2 = { top: 747, bottom: 1296, barTop: 747, barBottom: 1296, capY: 1371, spacing: 2.5 };
const R3 = { top: 1447, bottom: 1996, barTop: 1447, barBottom: 1996, capY: 2072, spacing: 2.5 };
const R4 = { top: 2148, bottom: 2692, barTop: 2148, barBottom: 2692, capY: 2768, spacing: 2.5 };

const panels: Panel[] = [
  { ...R1, caption: "(a) Empty channel", capX: 315, capY: 676, spacing: 4.6, left: 110, right: 474, barLeft: 535, barRight: 571, lines: aLines, layers: [], blobs: [] },
  { ...R1, caption: "(b)  80℃", capX: 995, left: 817, right: 1182, barLeft: 1237, barRight: 1277, lines: bLines, layers: [], blobs: [] },
  { ...R1, caption: "(c)  90℃", capX: 1726, left: 1525, right: 1889, barLeft: 1943, barRight: 1985, lines: cLines, layers: [], blobs: [] },
  {
    ...R1, caption: "(d)  95℃", capX: 2408, left: 2232, right: 2595, barLeft: 2615, barRight: 2651, lines: dLines,
    layers: [
      { pts: dTlDark, fill: DARK }, { pts: dTlRed, fill: RED }, { pts: dTlOrange, fill: ORANGE }, { pts: dTlAmber, fill: AMBER },
      { pts: dTrDark, fill: DARK }, { pts: dTrRed, fill: RED }, { pts: dTrOrange, fill: ORANGE }, { pts: dTrAmber, fill: AMBER }, { pts: dTrYellow, fill: YELLOW },
    ],
    blobs: [{ pts: dWedge, fill: DARK }],
  },
  {
    ...R2, caption: "(e)  100℃", capX: 284, left: 110, right: 476, barLeft: 535, barRight: 574, lines: eLines,
    layers: [
      { pts: eDark, fill: DARK }, { pts: eRedL, fill: RED }, { pts: eRedR, fill: RED }, { pts: eOrangeL, fill: ORANGE }, { pts: eOrangeR, fill: ORANGE },
      { pts: eAmberL, fill: AMBER }, { pts: eAmberR, fill: AMBER }, { pts: eYellowL, fill: YELLOW }, { pts: eYellowR, fill: YELLOW }, { pts: eWhiteL, fill: WHITE }, { pts: eWhiteR, fill: WHITE },
    ],
    blobs: [{ pts: eSpot, fill: RED }],
  },
  {
    ...R2, caption: "(f)  105℃", capX: 991, left: 817, right: 1183, barLeft: 1241, barRight: 1281, lines: fLines,
    layers: [{ pts: fRedL, fill: RED }, { pts: fRedR, fill: RED }, { pts: fAmberL, fill: AMBER }, { pts: fAmberR, fill: AMBER }, { pts: fWhiteL, fill: WHITE }, { pts: fWhiteR, fill: WHITE }],
    blobs: [],
  },
  {
    ...R2, caption: "(g)  110℃", capX: 1697, left: 1524, right: 1889, barLeft: 1944, barRight: 1984, lines: gLines,
    layers: [{ pts: gRedL, fill: RED }, { pts: gRedR, fill: RED }, { pts: gAmberL, fill: AMBER }, { pts: gAmberR, fill: AMBER }, { pts: gWhiteL, fill: WHITE }, { pts: gWhiteR, fill: WHITE }],
    blobs: [],
  },
  {
    ...R2, barBottom: 1293, caption: "(h)  113℃", capX: 2404, left: 2230, right: 2596, barLeft: 2614, barRight: 2651, lines: hLines,
    layers: [{ pts: hRed, fill: RED }, { pts: hAmber, fill: AMBER }],
    blobs: [{ pts: hBlobA, fill: WHITE }, { pts: hBlobB, fill: WHITE }, { pts: hBlobC, fill: WHITE }],
  },
  {
    ...R3, caption: "(i)  115℃", capX: 284, left: 110, right: 476, barLeft: 535, barRight: 574, lines: iLines,
    layers: [{ pts: iRed, fill: RED }, { pts: iAmber, fill: AMBER }],
    blobs: [iBlobA, iBlobB, iBlobC, iBlobD, iBlobE, iBlobF, iBlobG].map((pts) => ({ pts, fill: WHITE })).concat([{ pts: iSpot, fill: RED }]),
  },
  {
    ...R3, caption: "(j)  117℃", capX: 991, left: 817, right: 1183, barLeft: 1241, barRight: 1281, lines: jLines,
    layers: [{ pts: jRed, fill: RED }, { pts: jAmber, fill: AMBER }],
    blobs: [jBlobA, jBlobB, jBlobC, jBlobD, jBlobE, jBlobF, jBlobG, jBlobH, jBlobI].map((pts) => ({ pts, fill: WHITE })).concat([{ pts: jSpot, fill: RED }]),
  },
  {
    ...R3, caption: "(k)  120℃", capX: 1697, left: 1524, right: 1889, barLeft: 1944, barRight: 1984, lines: kLines,
    layers: [{ pts: kRed, fill: RED }, { pts: kAmber, fill: AMBER }, { pts: kCorner, fill: RED }],
    blobs: [kBlobA, kBlobB, kBlobC, kBlobD, kBlobE].map((pts) => ({ pts, fill: WHITE })).concat([{ pts: kSpot, fill: RED }]),
  },
  {
    ...R3, caption: "(l)  123℃", capX: 2404, left: 2230, right: 2596, barLeft: 2614, barRight: 2651, lines: lLines,
    layers: [{ pts: lRed, fill: RED }, { pts: lAmber, fill: AMBER }, { pts: lCorner, fill: RED }],
    blobs: [lBlobA, lBlobB, lBlobC, lBlobD, lBlobE, lBlobF, lBlobG].map((pts) => ({ pts, fill: WHITE })).concat([{ pts: lDot, fill: "#000" }, { pts: lSpot, fill: RED }]),
  },
  {
    ...R4, caption: "(m)  125℃", capX: 284, left: 111, right: 475, barLeft: 536, barRight: 572, lines: mLines,
    layers: [
      { pts: mDark, fill: DARK }, { pts: mRed, fill: RED }, { pts: mOrange, fill: ORANGE }, { pts: mAmber, fill: AMBER }, { pts: mYellow, fill: YELLOW },
      { pts: mTopAmber, fill: AMBER }, { pts: mTopOrange, fill: ORANGE }, { pts: mTopRed, fill: RED },
    ],
    blobs: [{ pts: mSide, fill: AMBER }, { pts: mSpot, fill: ORANGE }].concat([mBlobA, mBlobB, mBlobC, mBlobD, mBlobE, mBlobF, mBlobG, mBlobH].map((pts) => ({ pts, fill: WHITE }))),
  },
  {
    ...R4, caption: "(n)  127℃", capX: 991, left: 818, right: 1181, barLeft: 1239, barRight: 1276, lines: nLines,
    layers: [
      { pts: nDark, fill: DARK }, { pts: nRed, fill: RED }, { pts: nOrange, fill: ORANGE }, { pts: nAmber, fill: AMBER }, { pts: nYellow, fill: YELLOW },
      { pts: nTopAmber, fill: AMBER }, { pts: nTopOrange, fill: ORANGE }, { pts: nTopRed, fill: RED },
    ],
    blobs: [{ pts: nSide, fill: AMBER }].concat([nBlobA, nBlobB, nBlobC, nBlobD, nBlobE].map((pts) => ({ pts, fill: WHITE }))),
  },
  {
    ...R4, barTop: 2143, barBottom: 2696, caption: "(o)  130℃", capX: 1697, left: 1525, right: 1889, barLeft: 1912, barRight: 1945, lines: oLines,
    layers: [
      { pts: oDark, fill: DARK }, { pts: oRed, fill: RED }, { pts: oOrange, fill: ORANGE }, { pts: oAmber, fill: AMBER }, { pts: oYellow, fill: YELLOW },
      { pts: oTopAmber, fill: AMBER }, { pts: oTopOrangeA, fill: ORANGE }, { pts: oTopOrangeB, fill: ORANGE }, { pts: oTopOrangeC, fill: ORANGE }, { pts: oTopRed, fill: RED },
    ],
    blobs: [{ pts: oSide, fill: AMBER }]
      .concat([oBlobA, oBlobB, oBlobC, oBlobD, oBlobE, oBlobF].map((pts) => ({ pts, fill: WHITE })))
      .concat([{ pts: oDotA, fill: "#000" }, { pts: oDotB, fill: "#000" }]),
  },
];

// matlab hot(64), drawn as hard bands in the colorbar
function hotBand(i: number) {
  const t = i / 64;
  const c = (v: number) => Math.round(Math.max(0, Math.min(1, v)) * 255);
  return `rgb(${c(t / 0.375)},${c((t - 0.375) / 0.375)},${c((t - 0.75) / 0.25)})`;
}
const BANDS = 64;
const barStops = Array.from({ length: BANDS }, (_, i) => ({ a: i / BANDS, b: (i + 1) / BANDS, color: hotBand(BANDS - i) }));
const barFill = [{ x: 0, v: 1 }, { x: 1, v: 1 }];

// a mirrored 1px axis sits 1px outside the plot, which puts the frame on left/right/top/bottom
const M = { left: 60, right: 12, top: 12, bottom: 50 };
const BM = { left: 8, right: 76, top: 30, bottom: 12 };
const lineStyle = { stroke: FRAME, strokeWidth: 4 };
const tickStyle = { stroke: FRAME, strokeWidth: 3 };
const CONTOUR = 4.4;

function label(x: number, y: number, anchor: "start" | "middle" | "end", value: number) {
  return (
    <text x={x} y={y} textAnchor={anchor} dominantBaseline="central" fontFamily={FONT} fontSize={28} letterSpacing={anchor === "start" && value < 1 ? 3.5 : 0} fill={TEXT}>
      {value}
    </text>
  );
}

function ContourChart({ p }: { p: Panel }) {
  const w = p.right - p.left;
  const h = p.bottom - p.top;
  const plotBottom = M.top + h;
  return (
    <div style={{ position: "absolute", left: p.left - M.left, top: p.top - M.top }}>
      <ComposedChart width={w + M.left + M.right} height={h + M.top + M.bottom} margin={M}>
        <Area data={floorCurve.map(([x, y]) => ({ x, y }))} dataKey="y" type="linear" baseValue={45} fill={BLACK} fillOpacity={1} stroke="none" dot={false} activeDot={false} isAnimationActive={false} />
        {p.lines.map((pts, i) => (
          <Scatter key={`l${i}`} data={pts.map(([x, y]) => ({ x, y }))} dataKey="y" line={{ stroke: "#000", strokeWidth: 3 }} lineType="joint" shape={() => <g />} isAnimationActive={false} />
        ))}
        {p.layers.map((l, i) => (
          <Area key={`a${i}`} data={l.pts.map(([x, y]) => ({ x, y }))} dataKey="y" type="monotone" baseValue={45} fill={l.fill} fillOpacity={1} stroke="#000" strokeWidth={CONTOUR} dot={false} activeDot={false} isAnimationActive={false} />
        ))}
        {p.blobs.map((b, i) => (
          <Area key={`b${i}`} data={b.pts.map(([x, lo, hi]) => ({ x, r: [lo, hi] }))} dataKey="r" type="monotone" fill={b.fill} fillOpacity={1} stroke="#000" strokeWidth={CONTOUR} dot={false} activeDot={false} isAnimationActive={false} />
        ))}
        <XAxis xAxisId={0} dataKey="x" type="number" domain={[0, 30]} ticks={xTicks} allowDataOverflow height={1} mirror tickSize={7} axisLine={lineStyle} tickLine={tickStyle}
          tick={(t: any) => label(t.payload.coordinate + (t.payload.value === 0 ? -5 : -11), plotBottom + 25, "middle", t.payload.value)} />
        <XAxis xAxisId="top" orientation="top" dataKey="x" type="number" domain={[0, 30]} ticks={xTicks} allowDataOverflow height={1} mirror tickSize={7} axisLine={lineStyle} tickLine={tickStyle} tick={false} />
        <YAxis yAxisId={0} type="number" domain={[0, 45]} ticks={yTicks} allowDataOverflow width={1} mirror tickSize={7} axisLine={lineStyle} tickLine={tickStyle}
          tick={(t: any) => label(M.left + (t.payload.value === 0 ? -21 : -32), t.payload.coordinate - 13, "end", t.payload.value)} />
        <YAxis yAxisId="right" orientation="right" type="number" domain={[0, 45]} ticks={yTicks} allowDataOverflow width={1} mirror tickSize={7} axisLine={lineStyle} tickLine={tickStyle} tick={false} />
      </ComposedChart>
    </div>
  );
}

function ColorBar({ p, id }: { p: Panel; id: string }) {
  const w = p.barRight - p.barLeft;
  const h = p.barBottom - p.barTop;
  return (
    <div style={{ position: "absolute", left: p.barLeft - BM.left, top: p.barTop - BM.top }}>
      <ComposedChart width={w + BM.left + BM.right} height={h + BM.top + BM.bottom} margin={BM} data={barFill}>
        <defs>
          <linearGradient id={id} x1="0" y1="0" x2="0" y2="1">
            {barStops.flatMap((s, i) => [
              <stop key={`${i}a`} offset={s.a} stopColor={s.color} />,
              <stop key={`${i}b`} offset={s.b} stopColor={s.color} />,
            ])}
          </linearGradient>
        </defs>
        <Area dataKey="v" type="linear" baseValue={0.4} fill={`url(#${id})`} fillOpacity={1} stroke="none" dot={false} activeDot={false} isAnimationActive={false} />
        <XAxis xAxisId={0} dataKey="x" type="number" domain={[0, 1]} ticks={[]} allowDataOverflow height={1} mirror axisLine={lineStyle} tick={false} tickLine={false} />
        <XAxis xAxisId="top" orientation="top" dataKey="x" type="number" domain={[0, 1]} ticks={[]} allowDataOverflow height={1} mirror axisLine={lineStyle} tick={false} tickLine={false} />
        <YAxis yAxisId={0} type="number" domain={[0.4, 1]} ticks={[]} allowDataOverflow width={1} mirror axisLine={lineStyle} tick={false} tickLine={false} />
        <YAxis yAxisId="right" orientation="right" type="number" domain={[0.4, 1]} ticks={barTicks} allowDataOverflow width={1} mirror tickSize={7} axisLine={lineStyle} tickLine={tickStyle}
          tick={(t: any) => label(BM.left + w + 22, t.payload.coordinate - 13.5, "start", t.payload.value)} />
      </ComposedChart>
    </div>
  );
}

export default function App() {
  return (
    <div style={{ position: "absolute", left: 0, top: 0, width: 2766, height: 2816, background: "#fff", overflow: "hidden" }}>
      {panels.map((p, i) => (
        <div key={p.caption}>
          <ContourChart p={p} />
          <ColorBar p={p} id={`hot${i}`} />
          <div style={{ position: "absolute", left: p.capX - 200, top: p.capY - 20, width: 400, height: 40, lineHeight: "40px", textAlign: "center", whiteSpace: "pre", fontFamily: FONT, fontSize: 27, letterSpacing: p.spacing, color: TEXT }}>
            {p.caption}
          </div>
        </div>
      ))}
    </div>
  );
}
